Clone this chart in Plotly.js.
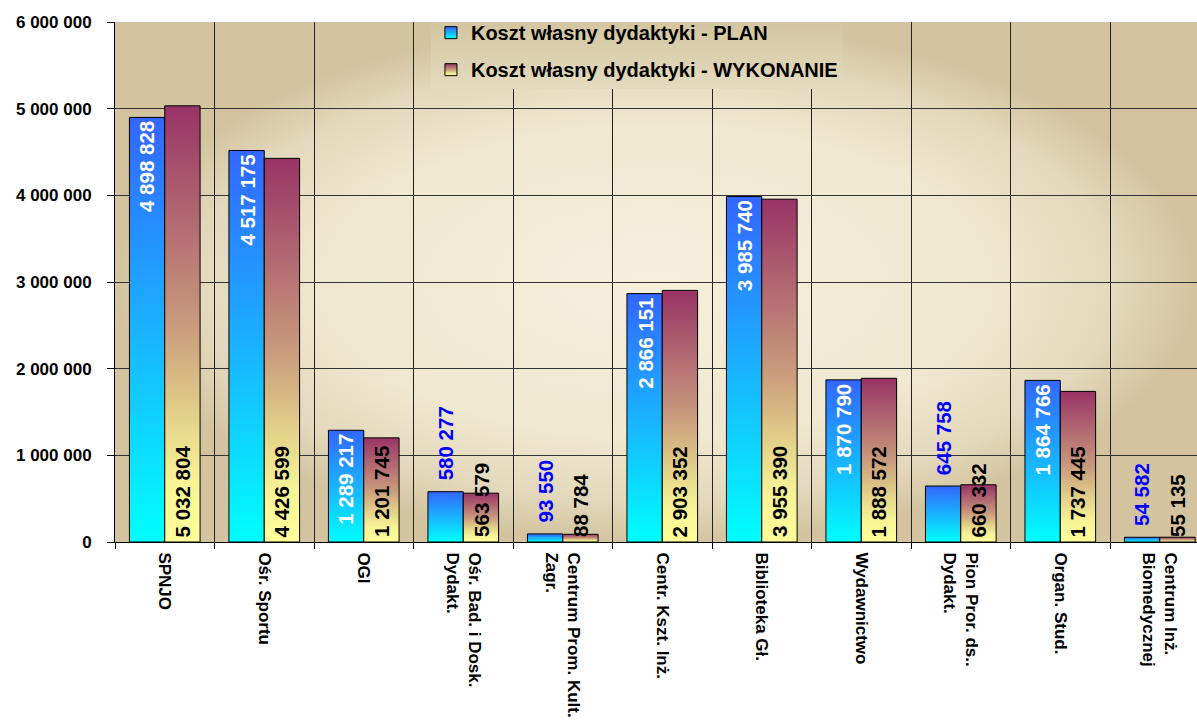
<!DOCTYPE html>
<html>
<head>
<meta charset="utf-8">
<script src="https://cdn.plot.ly/plotly-3.0.1.min.js"></script>
<style>
html, body { margin: 0; padding: 0; background: #ffffff; }
#chart { width: 1197px; height: 726px; }
</style>
</head>
<body>
<div id="chart"></div>
<script>
// ---- data ----
const categories = [
  'SPNJO',
  'Ośr. Sportu',
  'OGI',
  'Ośr. Bad. i Dosk.<br>Dydakt.',
  'Centrum Prom. Kult.<br>Zagr.',
  'Centr. Kszt. Inż.',
  'Biblioteka Gł.',
  'Wydawnictwo',
  'Pion Pror. ds..<br>Dydakt.',
  'Organ. Stud.',
  'Centrum Inż.<br>Biomedycznej'
];
const planValues = [4898828, 4517175, 1289217, 580277, 93550, 2866151, 3985740, 1870790, 645758, 1864766, 54582];
const wykValues  = [5032804, 4426599, 1201745, 563579, 88784, 2903352, 3955390, 1888572, 660332, 1737445, 55135];
const seriesNames = ['Koszt własny dydaktyki - PLAN', 'Koszt własny dydaktyki - WYKONANIE'];
const yTickValues = [0, 1000000, 2000000, 3000000, 4000000, 5000000, 6000000];

// ---- style ----
const FONT = 'Liberation Sans, Arial, sans-serif';
const BARGAP = 0.29;
const HALF = (1 - BARGAP) / 4;
const INSIDE_LIMIT = 1000000;
const LEGEND_Y = 1.017;

function fmt(v) { return String(v).replace(/\B(?=(\d{3})+(?!\d))/g, ' '); }

const traces = [
  {
    type: 'bar', name: seriesNames[0], x: categories, y: planValues,
    marker: { color: '#1ab0ff', line: { color: '#000', width: 1 } },
    legendgroup: 'plan', hoverinfo: 'none'
  },
  {
    type: 'bar', name: seriesNames[1], x: categories, y: wykValues,
    marker: { color: '#cc997f', line: { color: '#000', width: 1 } },
    legendgroup: 'wyk', hoverinfo: 'none'
  }
];

const annotations = [];
planValues.forEach((v, i) => {
  const inside = v > INSIDE_LIMIT;
  annotations.push({
    x: i - HALF, y: v, xref: 'x', yref: 'y', text: fmt(v), textangle: -90,
    showarrow: false, xanchor: 'center', yanchor: inside ? 'top' : 'bottom',
    yshift: inside ? -3 : 10, borderpad: 0,
    font: { family: FONT, size: 20.5, weight: 700, color: inside ? '#ffffff' : '#0000ff' }
  });
});
wykValues.forEach((v, i) => {
  annotations.push({
    x: i + HALF, y: 0, xref: 'x', yref: 'y', text: fmt(v), textangle: -90,
    showarrow: false, xanchor: 'center', yanchor: 'bottom', yshift: 4, borderpad: 0,
    font: { family: FONT, size: 20.5, weight: 700, color: '#000000' }
  });
});

const layout = {
  width: 1197, height: 726,
  margin: { l: 115, r: 0, t: 22, b: 184, pad: 0 },
  paper_bgcolor: '#ffffff', plot_bgcolor: '#efe7cf',
  barmode: 'group', bargap: BARGAP, bargroupgap: 0,
  separators: ', ',
  showlegend: true,
  font: { family: FONT, color: '#000' },
  xaxis: {
    type: 'category', range: [-0.5, 10.374], tickson: 'boundaries',
    showgrid: true, gridcolor: '#222', gridwidth: 1,
    ticks: 'outside', ticklen: 6, tickcolor: '#000', tickangle: 90,
    ticklabelstandoff: 6,
    tickfont: { family: FONT, size: 17, weight: 700, color: '#000' },
    showline: true, linecolor: '#000', linewidth: 1, fixedrange: true
  },
  yaxis: {
    range: [0, 6000000], tickvals: yTickValues, tickformat: ',d',
    showgrid: true, gridcolor: '#333', gridwidth: 1, zeroline: false,
    ticks: 'outside', ticklen: 7, tickcolor: '#000', ticklabelstandoff: 12,
    tickfont: { family: FONT, size: 17, weight: 700, color: '#000' },
    showline: true, linecolor: '#000', linewidth: 1, fixedrange: true
  },
  legend: {
    x: 0.292, xanchor: 'left', y: LEGEND_Y, yanchor: 'top',
    bgcolor: '#dcd1b0', borderwidth: 0,
    traceorder: 'grouped', tracegroupgap: 8,
    font: { family: FONT, size: 20, weight: 700, color: '#000' }
  },
  annotations: annotations
};

Plotly.newPlot('chart', traces, layout, { displayModeBar: false, staticPlot: true }).then(gd => {
  const ns = 'http://www.w3.org/2000/svg';
  const svg = gd.querySelector('svg.main-svg');
  const defs = document.createElementNS(ns, 'defs');
  svg.insertBefore(defs, svg.firstChild);
  function grad(id, stops, radial) {
    const g = document.createElementNS(ns, radial ? 'radialGradient' : 'linearGradient');
    g.setAttribute('id', id);
    if (!radial) { g.setAttribute('x1', '0'); g.setAttribute('y1', '0'); g.setAttribute('x2', '0'); g.setAttribute('y2', '1'); }
    else { g.setAttribute('cx', '0.5'); g.setAttribute('cy', '0.5'); g.setAttribute('r', '0.5'); }
    stops.forEach(s => {
      const st = document.createElementNS(ns, 'stop');
      st.setAttribute('offset', s[0]); st.setAttribute('stop-color', s[1]);
      g.appendChild(st);
    });
    defs.appendChild(g);
  }
  grad('gPlan', [[0, '#3366ff'], [1, '#00ffff']]);
  grad('gWyk', [[0, '#993366'], [0.5, '#c99a7c'], [0.72, '#e4d48a'], [0.86, '#f7f396'], [1, '#ffff99']]);
  grad('gBg', [[0, '#f5efdc'], [0.6, '#f0e8d0'], [0.85, '#e3d8bb'], [1, '#d3c49f']], true);
  grad('gLeg', [[0, '#d3c5a0'], [1, '#e4dbbf']]);
  const ids = ['gPlan', 'gWyk'];
  gd.querySelectorAll('.barlayer .trace').forEach((t, k) => {
    t.querySelectorAll('path').forEach(p => { p.style.fill = 'url(#' + ids[k] + ')'; });
  });
  gd.querySelectorAll('.legend .traces').forEach((t, k) => {
    t.querySelectorAll('.legendpoints path').forEach(p => { p.style.fill = 'url(#' + ids[k] + ')'; });
  });
  const bg = gd.querySelector('.bglayer rect.bg');
  if (bg) bg.style.fill = 'url(#gBg)';
  const lbg = gd.querySelector('.legend rect.bg');
  if (lbg) {
    lbg.style.fill = 'url(#gLeg)';
    // keep the legend box from rising above the plot area
    const fl = gd._fullLayout;
    const over = (LEGEND_Y - 1) * fl._size.h;
    const y0 = parseFloat(lbg.getAttribute('y') || 0);
    const h0 = parseFloat(lbg.getAttribute('height') || 0);
    lbg.setAttribute('y', y0 + over);
    lbg.setAttribute('height', Math.max(0, h0 - over));
  }
});
</script>
</body>
</html>
